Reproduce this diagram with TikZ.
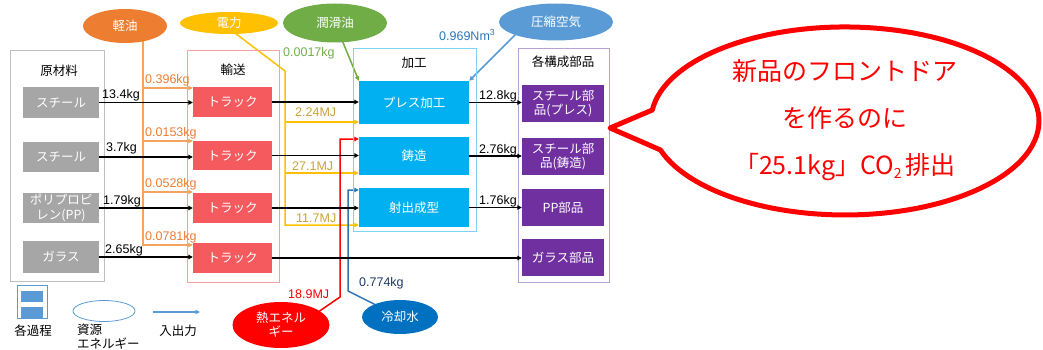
\documentclass[tikz,border=0pt]{standalone}
\usepackage{fontspec}
\setmainfont{Noto Sans CJK JP}
\newfontfamily\latinfont{Liberation Sans}
\usetikzlibrary{shapes.geometric,arrows.meta,backgrounds}
\definecolor{bgray}{HTML}{A6A6A6}
\definecolor{tred}{HTML}{F55A5F}
\definecolor{pblue}{HTML}{00B0F0}
\definecolor{ppurple}{HTML}{7030A0}
\definecolor{oorange}{HTML}{ED7D31}
\definecolor{olight}{HTML}{F4A460}
\definecolor{yyellow}{HTML}{FFC000}
\definecolor{ylabel}{HTML}{C9A23A}
\definecolor{ggreen}{HTML}{70AD47}
\definecolor{airblue}{HTML}{5B9BD5}
\definecolor{lblue}{HTML}{2E75B6}
\definecolor{coolblue}{HTML}{0070C0}
\definecolor{navy}{HTML}{1F3864}
\definecolor{cgray}{HTML}{BFBFBF}
\definecolor{cred}{HTML}{F7A1A4}
\definecolor{cblue}{HTML}{7FD3F2}
\definecolor{cpurple}{HTML}{B4A2D2}
\tikzset{
  box/.style={rectangle, inner sep=0pt, text=white, align=center, font=\fontsize{12.5}{14.5}\selectfont},
  graybox/.style={box, fill=bgray, minimum width=76pt},
  truckbox/.style={box, fill=tred, minimum width=79pt},
  procbox/.style={box, fill=pblue, minimum width=110pt},
  partbox/.style={box, fill=ppurple, minimum width=82pt},
  cont/.style={rectangle, draw, line width=1pt, inner sep=0pt},
  clabel/.style={font=\fontsize{12.5}{14}\selectfont, text=black, inner sep=0pt},
  res/.style={ellipse, inner sep=0pt, text=white, align=center, font=\fontsize{12.5}{14}\selectfont},
  num/.style={font=\latinfont\fontsize{12.5}{14}\selectfont, inner sep=0pt, anchor=west},
  tip/.style={-{Triangle[length=4.5pt,width=4.5pt]}},
  blk/.style={tip, line width=1.2pt, black},
  oarr/.style={tip, line width=1.5pt, olight},
  yarr/.style={tip, line width=1.5pt, yyellow},
  garr/.style={tip, line width=1.5pt, ggreen},
  barr/.style={tip, line width=1.5pt, airblue},
  rarr/.style={tip, line width=1.5pt, red},
  carr/.style={tip, line width=1.5pt, lblue},
}
\begin{document}
\begin{tikzpicture}[x=1pt,y=-1pt]
\useasboundingbox (0,0) rectangle (1043,350);

% containers
\node[cont, draw=cgray, minimum width=94pt, minimum height=230pt] (raw) at (57,166) {};
\node[cont, draw=cred, minimum width=92pt, minimum height=231pt] (trans) at (233,166.5) {};
\node[cont, draw=cblue, minimum width=123pt, minimum height=182pt] (proc) at (414.5,140) {};
\node[cont, draw=cpurple, minimum width=91pt, minimum height=233pt] (parts) at (563.5,165.5) {};
\node[clabel] (rawl) at (59,71) {原材料};
\node[clabel] (transl) at (233,70) {輸送};
\node[clabel] (procl) at (414,63) {加工};
\node[clabel] (partsl) at (563,62) {各構成部品};

% raw material boxes
\node[graybox, minimum height=31pt] (g1) at (61,102.5) {スチール};
\node[graybox, minimum height=30pt] (g2) at (61,157) {スチール};
\node[graybox, minimum height=30pt] (g3) at (61,208) {ポリプロピ\\レン(PP)};
\node[graybox, minimum height=32pt] (g4) at (61,257) {ガラス};
% trucks
\node[truckbox, minimum height=30pt] (t1) at (232.5,102) {トラック};
\node[truckbox, minimum height=29pt] (t2) at (232.5,155.5) {トラック};
\node[truckbox, minimum height=30pt] (t3) at (232.5,208) {トラック};
\node[truckbox, minimum height=30pt] (t4) at (232.5,258) {トラック};
% processes
\node[procbox, minimum height=43pt] (p1) at (414,102.5) {プレス加工};
\node[procbox, minimum height=38pt] (p2) at (414,156) {鋳造};
\node[procbox, minimum height=39pt] (p3) at (414,207.5) {射出成型};
% parts
\node[partbox, minimum height=37pt] (c1) at (563,103.5) {スチール部\\品(プレス)};
\node[partbox, minimum height=37pt] (c2) at (563,156.5) {スチール部\\品(鋳造)};
\node[partbox, minimum height=37pt] (c3) at (563,207.5) {PP部品};
\node[partbox, minimum height=37pt] (c4) at (563,257.5) {ガラス部品};

% resources
\node[res, fill=oorange, minimum width=84pt, minimum height=34pt] (oil) at (125,26) {軽油};
\node[res, fill=yyellow, minimum width=98pt, minimum height=22pt] (power) at (229,23) {電力};
\node[res, fill=ggreen, minimum width=104pt, minimum height=39pt] (lube) at (335,23) {潤滑油};
\node[res, fill=airblue, minimum width=114pt, minimum height=37pt] (air) at (556,22) {圧縮空気};
\node[res, fill=red, minimum width=97pt, minimum height=46pt] (heat) at (281,325) {熱エネル\\ギー};
\node[res, fill=coolblue, minimum width=76pt, minimum height=34pt] (cool) at (400,317) {冷却水};

% coordinates for bends
\coordinate (ob1) at (143,88);
\coordinate (ob2) at (143,141);
\coordinate (ob3) at (143,192);
\coordinate (ob4) at (143,245);
\coordinate (ys) at (231,30);
\coordinate (yk) at (285,71);
\coordinate (yb1) at (285,122);
\coordinate (yb2) at (285,173);
\coordinate (yb3) at (285,225);
\coordinate (as) at (520,30);
\coordinate (hs) at (305,321);
\coordinate (hk) at (340,297);
\coordinate (hb) at (340,139);
\coordinate (ck) at (348,291);
\coordinate (cb) at (348,190);

\begin{pgfonlayer}{background}
% oil
\draw[oarr] (oil.center -| ob1) -- (ob4) -- (ob4 -| t4.west);
\draw[oarr] (ob1) -- (ob1 -| t1.west);
\draw[oarr] (ob2) -- (ob2 -| t2.west);
\draw[oarr] (ob3) -- (ob3 -| t3.west);
% power
\draw[yarr] (ys) -- (yk) -- (yb3) -- (yb3 -| p3.west);
\draw[yarr] (yb1) -- (yb1 -| p1.west);
\draw[yarr] (yb2) -- (yb2 -| p2.west);
% lube, air
\draw[garr] (lube.center) -- (p1.north west);
\draw[barr] (as) -- (p1.north east);
% heat
\draw[rarr] (hs) -- (hk) -- (hb) -- (hb -| p2.west);
% cooling
\draw[carr] (cool.center) -- (ck) -- (cb) -- (cb -| p3.west);
\end{pgfonlayer}

% black flows
\draw[blk] (g1.east) -- (g1.east -| t1.west);
\draw[blk] (g2.east) -- (g2.east -| t2.west);
\draw[blk] (g3.east) -- (g3.east -| t3.west);
\draw[blk] (g4.east) -- (g4.east -| t4.west);
\draw[blk] (t1.east) -- (t1.east -| p1.west);
\draw[blk] (t2.east) -- (t2.east -| p2.west);
\draw[blk] (t3.east) -- (t3.east -| p3.west);
\draw[blk] (t4.east) -- (t4.east -| c4.west);
\draw[blk] (p1.east) -- (p1.east -| c1.west);
\draw[blk] (p2.east) -- (p2.east -| c2.west);
\draw[blk] (p3.east) -- (p3.east -| c3.west);

% labels
\node[num] (l1) at (102,95) {13.4kg};
\node[num] (l2) at (106,148) {3.7kg};
\node[num] (l3) at (103,201) {1.79kg};
\node[num] (l4) at (105,250) {2.65kg};
\node[num, text=oorange] (o1) at (145,80) {0.396kg};
\node[num, text=oorange] (o2) at (145,133) {0.0153kg};
\node[num, text=oorange] (o3) at (145,184) {0.0528kg};
\node[num, text=oorange] (o4) at (145,237) {0.0781kg};
\node[num, text=ylabel] (y1) at (295,112) {2.24MJ};
\node[num, text=ylabel] (y2) at (292,166) {27.1MJ};
\node[num, text=ylabel] (y3) at (296,218) {11.7MJ};
\node[num, text=ggreen] (gl) at (283,53) {0.0017kg};
\node[num, text=lblue] (bl) at (439,35) {0.969Nm\textsuperscript{3}};
\node[num, text=red] (rl) at (288,294) {18.9MJ};
\node[num, text=navy] (cl) at (359,283) {0.774kg};
\node[num] (k1) at (479,96) {12.8kg};
\node[num] (k2) at (479,150) {2.76kg};
\node[num] (k3) at (479,201) {1.76kg};

% legend
\node[rectangle, draw=airblue, line width=0.8pt, minimum width=30pt, minimum height=33pt, inner sep=0pt] (legbox) at (32,301.5) {};
\node[rectangle, fill=airblue, minimum width=22pt, minimum height=11pt, inner sep=0pt] (legb1) at (32,296.5) {};
\node[rectangle, fill=airblue, minimum width=22pt, minimum height=11pt, inner sep=0pt] (legb2) at (32,312.5) {};
\node[clabel] (legl1) at (33,331) {各過程};
\node[ellipse, draw=airblue, line width=0.8pt, minimum width=62pt, minimum height=21pt, inner sep=0pt] (legell) at (104,311) {};
\node[clabel, align=left, anchor=north west, font=\fontsize{12.5}{14}\selectfont] (legl2) at (77,324) {資源\\エネルギー};
\coordinate (la1) at (153,312);
\coordinate (la2) at (200,312);
\draw[barr, line width=1.2pt] (la1) -- (la2);
\node[clabel] (legl3) at (178,331) {入出力};

% speech bubble
\draw[red, line width=5pt, fill=white, line join=round] (652.3,110) arc[start angle=186.7, end angle=522.03, x radius=194, y radius=94] -- (610,128) -- cycle;
\node[align=center, text=red, font=\fontsize{25}{47}\selectfont, inner sep=0pt] (msg) at (845,120) {新品のフロントドア\\を作るのに\\「25.1kg」CO\raisebox{-4pt}{\fontsize{14}{14}\selectfont 2}\,排出};
\end{tikzpicture}
\end{document}
